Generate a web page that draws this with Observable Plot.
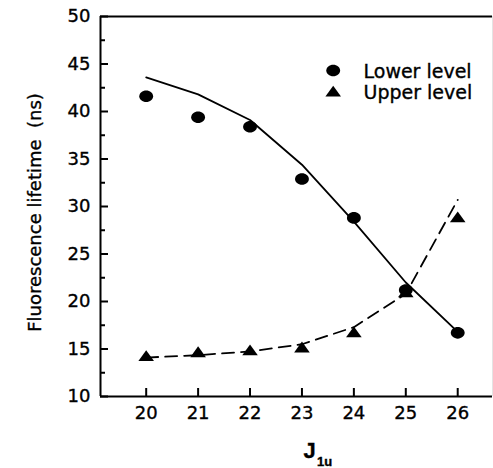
<!DOCTYPE html>
<html>
<head>
<meta charset="utf-8">
<script src="https://cdn.jsdelivr.net/npm/d3@7"></script>
<script src="https://cdn.jsdelivr.net/npm/@observablehq/plot@0.6"></script>
<style>
  html, body { margin: 0; padding: 0; background: #fff; }
  svg text { white-space: pre; stroke: #000; stroke-width: 0.35px; }
</style>
</head>
<body>
<div id="chart"></div>
<script>
// ---- data ----
const J = [20, 21, 22, 23, 24, 25, 26];
const lowerLevel = [41.6, 39.4, 38.4, 32.9, 28.8, 21.2, 16.7];
const upperLevel = [14.3, 14.7, 14.9, 15.2, 16.8, 21.0, 28.9];
const lowerFit = [43.6, 41.8, 39.1, 34.4, 28.4, 22.0, 16.8];
const upperFit = [14.1, 14.35, 14.75, 15.5, 17.3, 20.8, 30.7];
const yMajorTicks = [10, 15, 20, 25, 30, 35, 40, 45, 50];
const yMinorTicks = [12.5, 17.5, 22.5, 27.5, 32.5, 37.5, 42.5, 47.5];
const legendLabels = ["Lower level", "Upper level"];
const yTitle = "Fluorescence lifetime  (ns)";
const xTitle = "J";
const xTitleSub = "1u";

const lower = J.map((j, i) => ({j, v: lowerLevel[i]}));
const upper = J.map((j, i) => ({j, v: upperLevel[i]}));
const lowerF = J.map((j, i) => ({j, v: lowerFit[i]}));
const upperF = J.map((j, i) => ({j, v: upperFit[i]}));

// slightly squashed marker shapes, as in the scanned figure
const ellipse = {
  draw(ctx, size) {
    const r = Math.sqrt(size / Math.PI);
    const rx = r * 1.1, ry = r * 0.92, k = 0.5523;
    ctx.moveTo(rx, 0);
    ctx.bezierCurveTo(rx, ry * k, rx * k, ry, 0, ry);
    ctx.bezierCurveTo(-rx * k, ry, -rx, ry * k, -rx, 0);
    ctx.bezierCurveTo(-rx, -ry * k, -rx * k, -ry, 0, -ry);
    ctx.bezierCurveTo(rx * k, -ry, rx, -ry * k, rx, 0);
    ctx.closePath();
  }
};
const flatTriangle = {
  draw(ctx, size) {
    const r = Math.sqrt(size / Math.PI);
    ctx.moveTo(0, -0.92 * r);
    ctx.lineTo(1.3 * r, 0.88 * r);
    ctx.lineTo(-1.3 * r, 0.88 * r);
    ctx.closePath();
  }
};

const W = 493, H = 468;
const mL = 100, mR = 1, mT = 16, mB = 72;
const frameW = W - mL - mR, frameH = H - mT - mB;
const xDomain = [19.12, 26.67];
const yDomain = [10, 50];

const chart = Plot.plot({
  width: W,
  height: H,
  marginLeft: mL,
  marginRight: mR,
  marginTop: mT,
  marginBottom: mB,
  style: {fontFamily: "'DejaVu Sans', sans-serif", fontSize: "18px", color: "#000", background: "#fff"},
  x: {domain: xDomain, label: null},
  y: {domain: yDomain, label: null},
  marks: [
    // frame lines
    Plot.ruleX([xDomain[1]], {stroke: "#e4e4e4", strokeWidth: 1}),
    Plot.ruleY([yDomain[1]], {stroke: "#000", strokeWidth: 2}),
    Plot.ruleY([yDomain[0]], {stroke: "#000", strokeWidth: 2}),
    Plot.ruleX([xDomain[0]], {stroke: "#000", strokeWidth: 2}),
    // inward ticks
    Plot.tickY(yMajorTicks, {y: d => d, insetRight: frameW - 8, stroke: "#000", strokeWidth: 2}),
    Plot.tickY(yMinorTicks, {y: d => d, insetRight: frameW - 5, stroke: "#000", strokeWidth: 2}),
    Plot.tickX(J, {x: d => d, insetTop: frameH - 8, stroke: "#000", strokeWidth: 2}),
    // axis labels
    Plot.axisY(yMajorTicks, {tickSize: 0, tickPadding: 10, label: null, fill: "#000"}),
    Plot.axisX(J, {tickSize: 0, tickPadding: 10, label: null, fill: "#000", tickFormat: d => String(d)}),
    // fits
    Plot.line(lowerF, {x: "j", y: "v", stroke: "#000", strokeWidth: 1.8}),
    Plot.line(upperF, {x: "j", y: "v", stroke: "#000", strokeWidth: 1.8, strokeDasharray: "12,7"}),
    // data points
    Plot.dot(lower, {x: "j", y: "v", r: 6.3, symbol: ellipse, fill: "#000", stroke: "none"}),
    Plot.dot(upper, {x: "j", y: "v", r: 6, symbol: flatTriangle, fill: "#000", stroke: "none"}),
    // legend
    Plot.dot([legendLabels[0]], {frameAnchor: "top-left", dx: 232.7, dy: 54, r: 6.3, symbol: ellipse, fill: "#000", stroke: "none"}),
    Plot.dot([legendLabels[1]], {frameAnchor: "top-left", dx: 232.7, dy: 74.7, r: 6, symbol: flatTriangle, fill: "#000", stroke: "none"}),
    Plot.text([legendLabels[0]], {frameAnchor: "top-left", text: d => d, dx: 263, dy: 61.3, textAnchor: "start", lineAnchor: "bottom", fontSize: 19, fill: "#000"}),
    Plot.text([legendLabels[1]], {frameAnchor: "top-left", text: d => d, dx: 263, dy: 82.8, textAnchor: "start", lineAnchor: "bottom", fontSize: 19, fill: "#000"}),
    // axis titles
    Plot.text([yTitle], {frameAnchor: "left", text: d => d, rotate: -90, dx: -65, dy: 6, textAnchor: "middle", fontSize: 18, fill: "#000"}),
    Plot.text([xTitle], {frameAnchor: "bottom", text: d => d, dx: 13, dy: 61.5, textAnchor: "middle", lineAnchor: "bottom", fontSize: 22, fontWeight: "bold", fontFamily: "'Liberation Sans', Arial, sans-serif", fill: "#000"}),
    Plot.text([xTitleSub], {frameAnchor: "bottom", text: d => d, dx: 20.5, dy: 69.5, textAnchor: "start", lineAnchor: "bottom", fontSize: 13, fontWeight: "bold", fontFamily: "'Liberation Sans', Arial, sans-serif", fill: "#000"})
  ]
});
document.getElementById("chart").appendChild(chart);
</script>
</body>
</html>
